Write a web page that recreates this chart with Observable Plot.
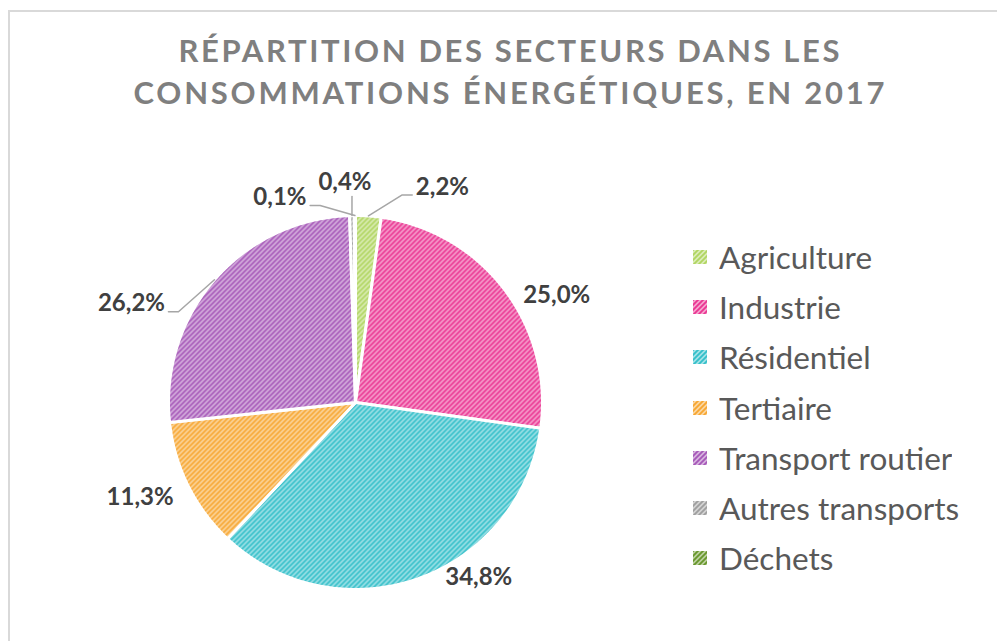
<!DOCTYPE html>
<html>
<head>
<meta charset="utf-8">
<script src="https://cdn.jsdelivr.net/npm/d3@7"></script>
<script src="https://cdn.jsdelivr.net/npm/@observablehq/plot@0.6"></script>
<style>
html, body { margin: 0; padding: 0; background: #fff; overflow: hidden; }
#wrap { position: relative; width: 997px; height: 641px; overflow: hidden; background: #fff; }
#frame { position: absolute; left: 8px; top: 10px; width: 1200px; height: 900px; border: 2.5px solid #d9d9d9; box-sizing: border-box; }
#chart { position: absolute; left: 0; top: 0; }
#title { position: absolute; left: 0; top: 0; }
#legend { position: absolute; left: 693px; top: 232px; }
#legend .lg-swatches { margin: 0; font-family: Lato, "Open Sans", sans-serif; font-size: 31.5px; color: #595959; }
#legend .lg-swatch { height: 50.2px; padding: 0; }
#legend .lg-swatch > svg { margin-right: 12px; }
</style>
</head>
<body>
<svg width="0" height="0" style="position:absolute"><defs id="defs"></defs></svg>
<div id="wrap">
  <div id="frame"></div>
  <div id="chart"></div>
  <svg id="title" width="997" height="130"></svg>
  <div id="legend"></div>
</div>
<script>
// ---- data ----
const categories = ["Agriculture", "Industrie", "Résidentiel", "Tertiaire", "Transport routier", "Autres transports", "Déchets"];
const shares = [2.2, 25.0, 34.8, 11.3, 26.2, 0.4, 0.1];
const titleLines = ["RÉPARTITION DES SECTEURS DANS LES", "CONSOMMATIONS ÉNERGÉTIQUES, EN 2017"];

// ---- styles ----
const palette = ["#b0d560", "#ea3592", "#33bfc9", "#f7a630", "#a557b8", "#9e9e9e", "#67962a"];
const R = 187; // pie radius in px
// label offsets (px) from the rim point at each slice's mid-angle, as placed in the original
const labelOffset = {
  "Agriculture": [74, -29],
  "Industrie": [52, 6],
  "Résidentiel": [61, -2],
  "Tertiaire": [-48, 11],
  "Transport routier": [-83, 24],
  "Autres transports": [-7, -33],
  "Déchets": [-75, -18]
};

// ---- hatch patterns ----
const ns = "http://www.w3.org/2000/svg";
const defs = document.getElementById("defs");
palette.forEach((c, i) => {
  const p = document.createElementNS(ns, "pattern");
  p.setAttribute("id", "hatch" + i);
  p.setAttribute("patternUnits", "userSpaceOnUse");
  p.setAttribute("width", 5);
  p.setAttribute("height", 5);
  const r = document.createElementNS(ns, "rect");
  r.setAttribute("width", 5); r.setAttribute("height", 5);
  r.setAttribute("fill", d3.interpolateRgb(c, "#ffffff")(0.55));
  p.appendChild(r);
  const path = document.createElementNS(ns, "path");
  path.setAttribute("d", "M-1,1 L1,-1 M0,5 L5,0 M4,6 L6,4");
  path.setAttribute("stroke", c);
  path.setAttribute("stroke-width", 1.8);
  p.appendChild(path);
  defs.appendChild(p);
});
const fills = palette.map((c, i) => `url(#hatch${i})`);

// ---- title ----
const tsvg = d3.select("#title");
const titleWidths = [661, 751];
titleLines.forEach((t, i) => {
  tsvg.append("text")
    .attr("x", 509).attr("y", 62 + i * 41.5)
    .attr("text-anchor", "middle")
    .attr("textLength", titleWidths[i])
    .attr("lengthAdjust", "spacing")
    .attr("font-family", "Lato, 'Open Sans', sans-serif")
    .attr("font-weight", "bold")
    .attr("font-size", 31)
    .attr("fill", "#7f7f7f")
    .text(t);
});

// ---- pie geometry from data ----
const data = categories.map((cat, i) => ({cat, value: shares[i]}));
const arcs = d3.pie().sort(null).value(d => d.value)(data);
const slicePts = arcs.flatMap(a => {
  const n = Math.max(2, Math.ceil((a.endAngle - a.startAngle) / (Math.PI / 360)));
  const pts = [{cat: a.data.cat, x: 0, y: 0}];
  for (let k = 0; k <= n; k++) {
    const t = a.startAngle + (a.endAngle - a.startAngle) * k / n;
    pts.push({cat: a.data.cat, x: Math.sin(t), y: Math.cos(t)});
  }
  return pts;
});

const fmt = v => v.toFixed(1).replace(".", ",") + "%";
const labels = arcs.map(a => {
  const m = (a.startAngle + a.endAngle) / 2;
  const rx = Math.sin(m), ry = Math.cos(m);
  const [dx, dy] = labelOffset[a.data.cat];
  return {cat: a.data.cat, share: a.data.value, text: fmt(a.data.value), rx, ry, lx: rx + dx / R, ly: ry - dy / R, dx, dy};
});

const leaderPts = [];
labels.forEach(l => {
  const hw = l.text.length * 13.6 / 2;
  const gap = Math.max(Math.abs(l.dx) - hw, Math.abs(l.dy) - 10);
  if (!(l.share < 3 || gap > 40)) return;
  const pts = [{cat: l.cat, x: l.rx, y: l.ry}];
  if (Math.abs(l.dx) > 25) {
    const side = Math.sign(l.dx);
    const ax = l.lx - side * (hw + 3) / R;
    const ay = l.ly - 8 / R;
    pts.push({cat: l.cat, x: ax - side * 10 / R, y: ay});
    pts.push({cat: l.cat, x: ax, y: ay});
  } else {
    pts.push({cat: l.cat, x: l.rx, y: l.ly - 14 / R});
  }
  leaderPts.push(...pts);
});

const chart = Plot.plot({
  width: 997,
  height: 641,
  marginLeft: 355 - R,
  marginRight: 997 - (355 + R),
  marginTop: 402 - R,
  marginBottom: 641 - (402 + R),
  x: {domain: [-1, 1], axis: null},
  y: {domain: [-1, 1], axis: null},
  color: {type: "ordinal", domain: categories, range: fills},
  style: {background: "transparent", overflow: "visible"},
  marks: [
    Plot.line(slicePts, {x: "x", y: "y", z: "cat", fill: "cat", stroke: "white", strokeWidth: 3, strokeLinejoin: "round", curve: "linear-closed"}),
    Plot.line(leaderPts, {x: "x", y: "y", z: "cat", stroke: "#a6a6a6", strokeWidth: 1.5}),
    Plot.text(labels, {x: "lx", y: "ly", text: "text", fontFamily: "Lato, 'Open Sans', sans-serif", fontWeight: "bold", fontSize: 24, fill: "#404040"})
  ]
});
document.getElementById("chart").appendChild(chart);

const legend = Plot.legend({
  color: {type: "ordinal", domain: categories, range: fills},
  legend: "swatches",
  columns: 1,
  className: "lg",
  swatchSize: 14
});
document.getElementById("legend").appendChild(legend);
</script>
</body>
</html>
